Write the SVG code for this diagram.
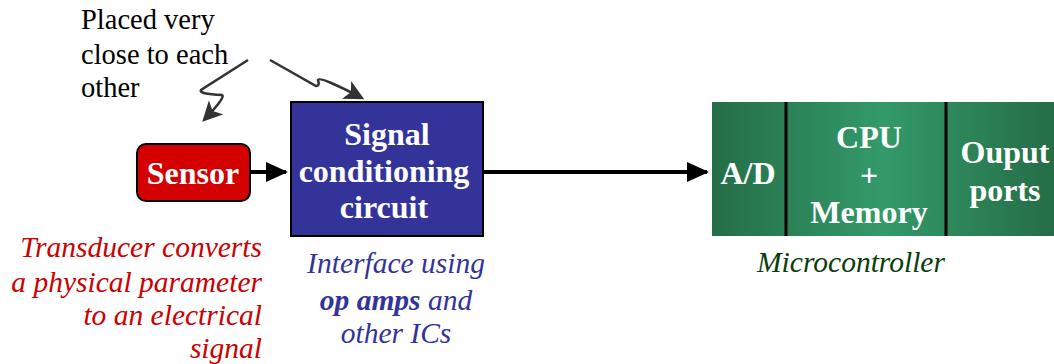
<svg xmlns="http://www.w3.org/2000/svg" width="1054" height="364" viewBox="0 0 1054 364">
<style>
.t{font-family:"Liberation Serif","Times New Roman",serif;}
.w{fill:#fff;font-weight:bold;font-size:32px;text-anchor:middle;}
.note{font-size:29.5px;font-style:italic;}
.sq{fill:none;stroke:#333;stroke-width:2.5;}
.conn{stroke:#000;stroke-width:4;}
</style>
<defs>
<marker id="ah" markerWidth="6" markerHeight="6" refX="5" refY="3" orient="auto" markerUnits="strokeWidth"><path d="M0,0.5 L5.5,3 L0,5.5 z" fill="#000"/></marker>
<marker id="sh" markerWidth="8" markerHeight="8" refX="7" refY="4" orient="auto" markerUnits="strokeWidth"><path d="M0,0 L8,4 L0,8 L2,4 z" fill="#333"/></marker>
<linearGradient id="g" x1="0" y1="0" x2="1" y2="0">
<stop offset="0" stop-color="#256d46"/>
<stop offset="0.5" stop-color="#339a6a"/>
<stop offset="1" stop-color="#256d46"/>
</linearGradient>
</defs>
<g id="note-top" class="t" font-size="28.5">
<text x="81" y="29">Placed very</text>
<text x="81" y="64">close to each</text>
<text x="81" y="97">other</text>
</g>
<g id="connectors">
<path class="sq" d="M248,60 L201,90 Q198,94 222,95 Q226,97 204,120" marker-end="url(#sh)"/>
<path class="sq" d="M270,60 L316,86 Q320,86 318,80 Q320,76 362,98" marker-end="url(#sh)"/>
<line class="conn" x1="250" y1="172" x2="286" y2="172" marker-end="url(#ah)"/>
<line class="conn" x1="483" y1="172" x2="707" y2="172" marker-end="url(#ah)"/>
</g>
<g id="sensor">
<rect x="137" y="144" width="113" height="57" rx="9" fill="#d40000" stroke="#000" stroke-width="2"/>
<text class="t w" x="193" y="184">Sensor</text>
</g>
<g id="signal-conditioning">
<rect x="291" y="102" width="192" height="134" fill="#333399" stroke="#000" stroke-width="2"/>
<text class="t w" x="387" y="145">Signal</text>
<text class="t w" x="384" y="182">conditioning</text>
<text class="t w" x="384" y="218">circuit</text>
</g>
<g id="microcontroller">
<rect x="712" y="102" width="342" height="134" fill="url(#g)"/>
<line x1="786" y1="102" x2="786" y2="236" stroke="#000" stroke-width="3"/>
<line x1="946" y1="102" x2="946" y2="236" stroke="#000" stroke-width="3"/>
<text class="t w" x="748" y="184">A/D</text>
<text class="t w" x="869" y="148">CPU</text>
<text class="t w" x="869" y="186" font-weight="normal">+</text>
<text class="t w" x="869" y="223">Memory</text>
<text class="t w" x="1005" y="163">Ouput</text>
<text class="t w" x="1005" y="201">ports</text>
</g>
<g id="note-sensor" class="t note" fill="#cc0000" text-anchor="end">
<text x="262" y="257">Transducer converts</text>
<text x="262" y="292">a physical parameter</text>
<text x="262" y="325">to an electrical</text>
<text x="262" y="358">signal</text>
</g>
<g id="note-signal" class="t note" fill="#333399" text-anchor="middle">
<text x="396" y="273">Interface using</text>
<text x="396" y="310"><tspan font-weight="bold">op amps</tspan> and</text>
<text x="396" y="343">other ICs</text>
</g>
<g id="note-micro">
<text class="t note" x="851" y="272" fill="#0b3d0b" text-anchor="middle">Microcontroller</text>
</g>
</svg>
